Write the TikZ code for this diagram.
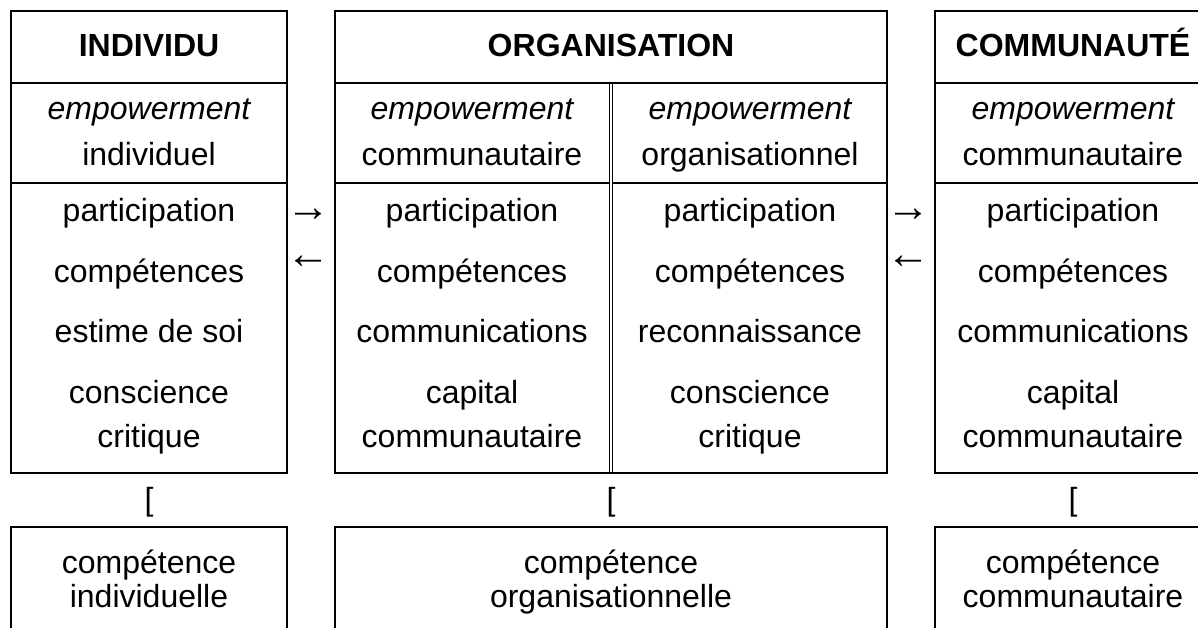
\documentclass[tikz,border=0pt]{standalone}
\usepackage{fontspec}
\setmainfont{Liberation Sans}
\begin{document}
\begin{tikzpicture}[x=1pt,y=-1pt,line width=1.8pt,
  txt/.style={anchor=base,inner sep=0pt,font=\fontsize{32}{38}\selectfont},
  hd/.style={txt,font=\fontsize{32}{38}\selectfont\bfseries},
  emph/.style={txt,font=\fontsize{32}{38}\selectfont\itshape},
  arr/.style={anchor=center,inner sep=0pt,font=\fontsize{44}{50}\selectfont},
  frame/.style={draw=black,line width=1.8pt},
  thin/.style={draw=black,line width=1.2pt}]
\useasboundingbox (0,0) rectangle (1198,628);
\clip (0,0) rectangle (1198,628);
\fill[white] (0,0) rectangle (1198,628);
% ---------- frames ----------
% left column
\draw[frame] (11,11) rectangle (287,473);
\draw[frame] (11,83) -- (287,83);
\draw[frame] (11,183) -- (287,183);
% middle column
\draw[frame] (335,11) rectangle (887,473);
\draw[frame] (335,83) -- (887,83);
\draw[frame] (335,183) -- (609.5,183);
\draw[frame] (612.5,183) -- (887,183);
\draw[thin] (609.5,83) -- (609.5,473);
\draw[thin] (612.5,83) -- (612.5,473);
% right column
\draw[frame] (935,11) rectangle (1211,473);
\draw[frame] (935,83) -- (1211,83);
\draw[frame] (935,183) -- (1211,183);
% bottom boxes
\draw[frame] (11,527) rectangle (287,660);
\draw[frame] (335,527) rectangle (887,660);
\draw[frame] (935,527) rectangle (1211,660);
% ---------- headers ----------
\node[hd] (hI) at (149,57) {INDIVIDU};
\node[hd] (hO) at (611,57) {ORGANISATION};
\node[hd] (hC) at (1073,57) {COMMUNAUTÉ};
% ---------- empowerment row ----------
\node[emph] (eI) at (149,120) {empowerment};
\node[txt]  (eI2) at (149,166) {individuel};
\node[emph] (eA) at (472,120) {empowerment};
\node[txt]  (eA2) at (472,166) {communautaire};
\node[emph] (eB) at (750,120) {empowerment};
\node[txt]  (eB2) at (750,166) {organisationnel};
\node[emph] (eC) at (1073,120) {empowerment};
\node[txt]  (eC2) at (1073,166) {communautaire};
% ---------- items: individu ----------
\node[txt] (i1) at (149,222) {participation};
\node[txt] (i2) at (149,282) {compétences};
\node[txt] (i3) at (149,342) {estime de soi};
\node[txt] (i4) at (149,403) {conscience};
\node[txt] (i5) at (149,447) {critique};
% ---------- items: organisation (communautaire) ----------
\node[txt] (a1) at (472,222) {participation};
\node[txt] (a2) at (472,282) {compétences};
\node[txt] (a3) at (472,342) {communications};
\node[txt] (a4) at (472,403) {capital};
\node[txt] (a5) at (472,447) {communautaire};
% ---------- items: organisation (organisationnel) ----------
\node[txt] (b1) at (750,222) {participation};
\node[txt] (b2) at (750,282) {compétences};
\node[txt] (b3) at (750,342) {reconnaissance};
\node[txt] (b4) at (750,403) {conscience};
\node[txt] (b5) at (750,447) {critique};
% ---------- items: communauté ----------
\node[txt] (c1) at (1073,222) {participation};
\node[txt] (c2) at (1073,282) {compétences};
\node[txt] (c3) at (1073,342) {communications};
\node[txt] (c4) at (1073,403) {capital};
\node[txt] (c5) at (1073,447) {communautaire};
% ---------- arrows ----------
\node[arr] (r1) at (308,215) {→};
\node[arr] (l1) at (308,262) {←};
\node[arr] (r2) at (908,215) {→};
\node[arr] (l2) at (908,262) {←};
% ---------- brackets ----------
\node[txt] (k1) at (149,510) {[};
\node[txt] (k2) at (611,510) {[};
\node[txt] (k3) at (1073,510) {[};
% ---------- bottom boxes ----------
\node[txt] (bI1) at (149,573) {compétence};
\node[txt] (bI2) at (149,607) {individuelle};
\node[txt] (bO1) at (611,573) {compétence};
\node[txt] (bO2) at (611,607) {organisationnelle};
\node[txt] (bC1) at (1073,573) {compétence};
\node[txt] (bC2) at (1073,607) {communautaire};
\end{tikzpicture}
\end{document}
